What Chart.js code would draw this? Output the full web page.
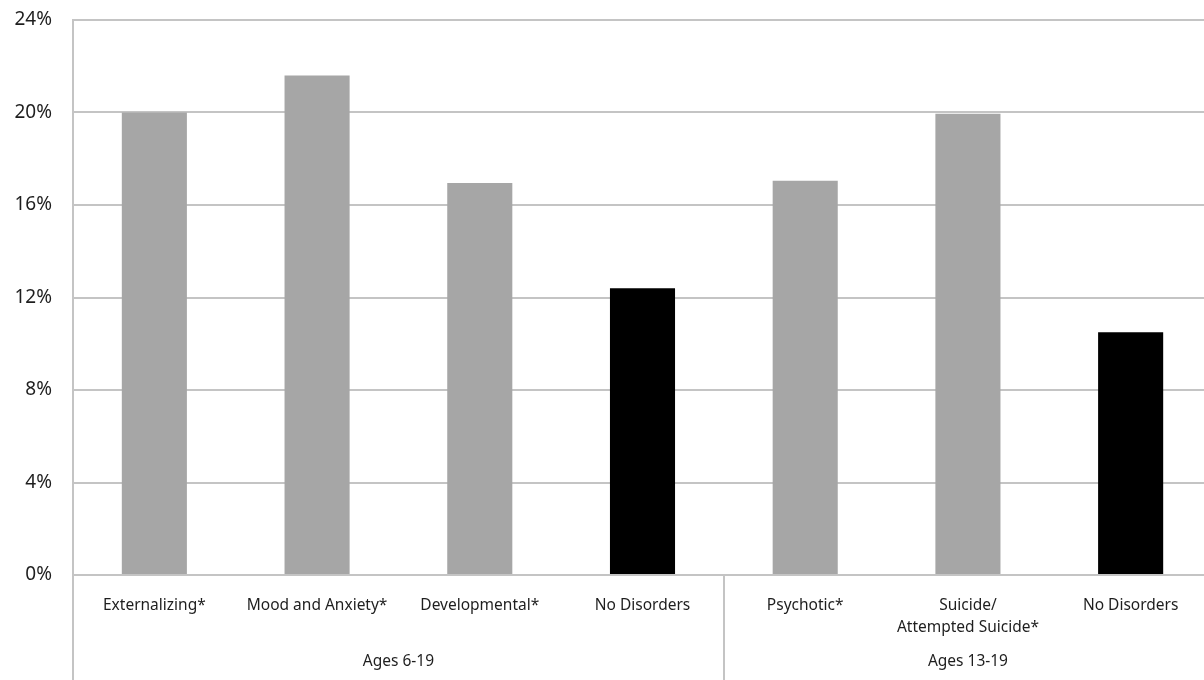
<!DOCTYPE html>
<html>
<head>
<meta charset="utf-8">
<script src="https://cdn.jsdelivr.net/npm/chart.js@4"></script>
<style>
  html, body { margin: 0; padding: 0; background: #fff; overflow: hidden; }
  #wrap { position: relative; width: 1212px; height: 680px; }
</style>
</head>
<body>
<div id="wrap"><canvas id="c"></canvas></div>
<script>
// Categories (inner level) and their age groups (outer level)
const categories = [
  'Externalizing*', 'Mood and Anxiety*', 'Developmental*', 'No Disorders',
  'Psychotic*', ['Suicide/', 'Attempted Suicide*'], 'No Disorders'
];
const groupLabels = ['Ages 6-19', 'Ages 13-19'];
const groupSizes = [4, 3];

// Percent of youth in each category
const values = [20.0, 21.6, 16.95, 12.4, 17.05, 19.95, 10.5];
const isReference = [false, false, false, true, false, false, true];

const yTicks = [0, 4, 8, 12, 16, 20, 24];

const GRID = '#c4c4c4';
const TEXT = '#1e1e1e';
const FONT = "'Noto Sans', 'Open Sans', sans-serif";

// Draws outer category labels and the group divider lines below the axis
const groupAxis = {
  id: 'groupAxis',
  afterDraw(chart) {
    const x = chart.scales.x;
    const area = chart.chartArea;
    const ctx = chart.ctx;
    const half = (x.getPixelForValue(1) - x.getPixelForValue(0)) / 2;
    const bottom = chart.height;
    ctx.save();
    ctx.strokeStyle = GRID;
    ctx.lineWidth = 2;
    let start = 0;
    const edges = [x.getPixelForValue(0) - half];
    groupSizes.forEach((n) => {
      edges.push(x.getPixelForValue(start + n - 1) + half);
      start += n;
    });
    edges.forEach((px) => {
      ctx.beginPath();
      ctx.moveTo(Math.round(px), area.bottom);
      ctx.lineTo(Math.round(px), bottom);
      ctx.stroke();
    });
    ctx.fillStyle = TEXT;
    ctx.font = '15.5px ' + FONT;
    ctx.textAlign = 'center';
    ctx.textBaseline = 'middle';
    groupLabels.forEach((lbl, i) => {
      ctx.fillText(lbl, (edges[i] + edges[i + 1]) / 2, area.bottom + 87);
    });
    ctx.restore();
  }
};

new Chart(document.getElementById('c'), {
  type: 'bar',
  data: {
    labels: categories,
    datasets: [{
      data: values,
      backgroundColor: isReference.map(r => r ? '#000000' : '#a6a6a6'),
      borderWidth: 0,
      barPercentage: 0.4,
      categoryPercentage: 1.0
    }]
  },
  options: {
    responsive: true,
    maintainAspectRatio: false,
    animation: false,
    layout: { padding: { top: 20, right: 0, bottom: 0, left: 0 } },
    plugins: { legend: { display: false }, tooltip: { enabled: false } },
    scales: {
      x: {
        grid: { display: false },
        border: { display: false },
        ticks: {
          color: TEXT,
          font: { family: FONT, size: 15.5, lineHeight: 1.45 },
          padding: 11,
          maxRotation: 0,
          autoSkip: false
        },
        afterFit(s) { s.height = 105; }
      },
      y: {
        min: 0,
        max: 24,
        afterBuildTicks(s) { s.ticks = yTicks.map(v => ({ value: v })); },
        grid: { color: GRID, lineWidth: 2, drawTicks: false },
        border: { display: true, color: GRID, width: 2 },
        ticks: {
          color: TEXT,
          font: { family: FONT, size: 19 },
          padding: 21,
          callback: v => v + '%'
        },
        afterFit(s) {
          s.width = 73;
          s.paddingTop = 0;
          s.paddingBottom = 0;
        }
      }
    }
  },
  plugins: [groupAxis]
});
</script>
</body>
</html>
